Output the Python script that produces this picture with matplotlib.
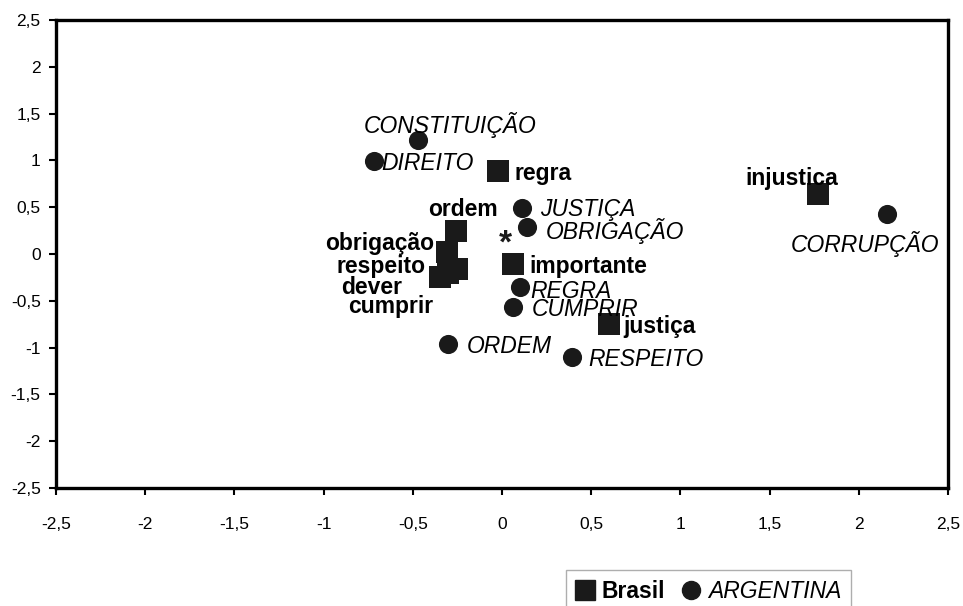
import matplotlib
matplotlib.use("Agg")
import matplotlib.pyplot as plt
from matplotlib.lines import Line2D

plt.rcParams['font.family'] = ['Liberation Sans', 'DejaVu Sans']

# Brasil (squares)
br_labels = ["regra", "injustica", "ordem", "obrigação", "respeito", "dever", "cumprir", "importante", "justiça"]
br_x = [-0.02, 1.77, -0.26, -0.31, -0.25, -0.35, -0.30, 0.06, 0.60]
br_y = [0.89, 0.64, 0.25, 0.02, -0.16, -0.25, -0.20, -0.11, -0.75]

# Argentina (circles)
ar_labels = ["CONSTITUIÇÃO", "DIREITO", "JUSTIÇA", "OBRIGAÇÃO", "CORRUPÇÃO", "REGRA", "CUMPRIR", "ORDEM", "RESPEITO"]
ar_x = [-0.47, -0.72, 0.11, 0.14, 2.16, 0.10, 0.06, -0.30, 0.39]
ar_y = [1.22, 0.99, 0.49, 0.29, 0.43, -0.35, -0.57, -0.96, -1.10]

# centroid marker
star_x = [0.02]
star_y = [0.11]

ticks = [-2.5, -2, -1.5, -1, -0.5, 0, 0.5, 1, 1.5, 2, 2.5]
tick_labels = ["-2,5", "-2", "-1,5", "-1", "-0,5", "0", "0,5", "1", "1,5", "2", "2,5"]

# label layout: (dx px, dy px, ha)
br_off = [(16, 0, 'left'), (-26, 18, 'center'), (7, 24, 'center'), (-13, 11, 'right'),
          (-32, 5, 'right'), (-37, -8, 'right'), (-15, -31, 'right'), (17, 0, 'left'),
          (14, 0, 'left')]
ar_off = [(32, 17, 'center'), (8, 0, 'left'), (18, 1, 'left'), (19, -2, 'left'),
          (-22, -28, 'center'), (10, -2, 'left'), (19, 0, 'left'), (18, 0, 'left'),
          (17, 0, 'left')]

DPI = 100
fig = plt.figure(figsize=(9.63, 6.06), dpi=DPI)
ax = fig.add_axes([56/963, 1-488/606, (948-56)/963, (488-20)/606])

col = '#1a1a1a'
ax.scatter(br_x, br_y, marker='s', s=260, color=col, zorder=3, linewidths=0)
ax.scatter(ar_x, ar_y, marker='o', s=190, color=col, zorder=3, linewidths=0)
for x, y in zip(star_x, star_y):
    ax.text(x, y, '*', fontsize=24, fontweight='bold', ha='center', va='center', color=col, zorder=4)

fs = 16.5
k = 72 / DPI
for lab, x, y, (dx, dy, ha) in zip(br_labels, br_x, br_y, br_off):
    ax.annotate(lab, (x, y), xytext=(dx * k, dy * k), textcoords='offset points',
                ha=ha, va='center_baseline', fontsize=fs, fontweight='bold', color='black', zorder=5)
for lab, x, y, (dx, dy, ha) in zip(ar_labels, ar_x, ar_y, ar_off):
    ax.annotate(lab, (x, y), xytext=(dx * k, dy * k), textcoords='offset points',
                ha=ha, va='center_baseline', fontsize=fs, fontstyle='italic', color='black', zorder=5)

ax.set_xlim(-2.5, 2.5)
ax.set_ylim(-2.5, 2.5)
ax.set_xticks(ticks)
ax.set_xticklabels(tick_labels)
ax.set_yticks(ticks)
ax.set_yticklabels(tick_labels)
ax.tick_params(axis='x', length=5, width=1.5, pad=16, labelsize=12.5, colors='black')
ax.tick_params(axis='y', length=5, width=1.5, pad=6, labelsize=12.5, colors='black')
for sp in ax.spines.values():
    sp.set_linewidth(2.4)
    sp.set_color('black')

handles = [Line2D([], [], marker='s', color=col, linestyle='None', markersize=15),
           Line2D([], [], marker='o', color=col, linestyle='None', markersize=13)]
leg = fig.legend(handles, ["Brasil", "ARGENTINA"], loc='upper left',
                 bbox_to_anchor=(566/963, 1-570/606), ncol=2, fontsize=fs,
                 handlelength=0.85, handletextpad=0.3, columnspacing=0.7,
                 borderpad=0.42, borderaxespad=0, fancybox=False, frameon=True)
leg.get_frame().set_edgecolor('#9a9a9a')
leg.get_frame().set_linewidth(1.0)
t = leg.get_texts()
t[0].set_fontweight('bold')
t[1].set_fontstyle('italic')

fig.savefig('out.png', dpi=DPI)
